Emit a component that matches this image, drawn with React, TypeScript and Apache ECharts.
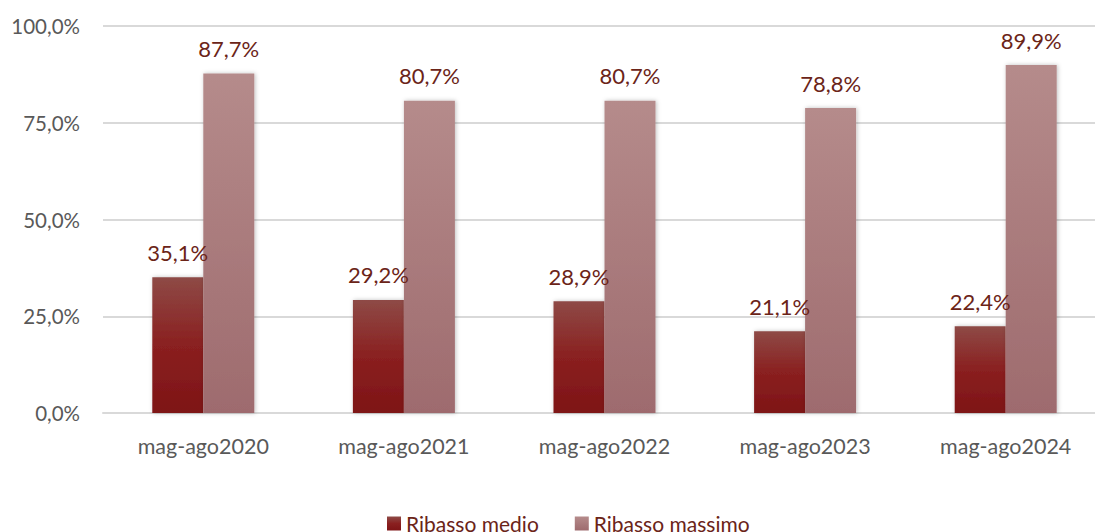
import React, { useEffect, useRef } from "react";
import * as echarts from "echarts";

const categories = ["mag-ago2020", "mag-ago2021", "mag-ago2022", "mag-ago2023", "mag-ago2024"];
const ribassoMedio = [35.1, 29.2, 28.9, 21.1, 22.4];
const ribassoMassimo = [87.7, 80.7, 80.7, 78.8, 89.9];
const seriesNames = ["Ribasso medio", "Ribasso massimo"];

const fmt = (v: number) => v.toFixed(1).replace(".", ",") + "%";

export default function App() {
  const ref = useRef<HTMLDivElement>(null);
  useEffect(() => {
    const chart = echarts.init(ref.current!, null, { renderer: "svg" });
    const font = "Lato, 'Open Sans', sans-serif";
    const labelColor = "#6b2418";
    const barLabel = {
      show: true,
      position: "top",
      distance: 14,
      color: labelColor,
      fontSize: 22,
      fontFamily: font,
      formatter: (p: any) => fmt(p.value),
    };
    chart.setOption({
      animation: false,
      grid: { left: 103, width: 1003, top: 26, height: 387 },
      legend: {
        bottom: -7,
        left: 382,
        itemWidth: 14,
        itemHeight: 14,
        itemGap: 36,
        icon: "rect",
        textStyle: { color: labelColor, fontSize: 21, fontFamily: font },
        data: seriesNames,
      },
      xAxis: {
        type: "category",
        data: categories,
        axisLine: { lineStyle: { color: "#d9d9d9", width: 2 } },
        axisTick: { show: false },
        axisLabel: { color: "#595959", fontSize: 21.5, fontFamily: font, margin: 22 },
      },
      yAxis: {
        type: "value",
        min: 0,
        max: 100,
        interval: 25,
        axisLine: { show: false },
        axisTick: { show: false },
        splitLine: { lineStyle: { color: "#d9d9d9", width: 2 } },
        axisLabel: { color: "#595959", fontSize: 20.5, fontFamily: font, margin: 23, formatter: (v: number) => fmt(v) },
      },
      series: [
        {
          name: seriesNames[0],
          type: "bar",
          data: ribassoMedio,
          barWidth: 51,
          barGap: "0%",
          itemStyle: {
            color: new echarts.graphic.LinearGradient(0, 0, 0, 1, [
              { offset: 0, color: "#8e4a46" },
              { offset: 0.5, color: "#8a2020" },
              { offset: 1, color: "#7e1416" },
            ]),
            shadowColor: "rgba(0,0,0,0.25)",
            shadowBlur: 4,
            shadowOffsetX: 1,
          },
          label: barLabel,
        },
        {
          name: seriesNames[1],
          type: "bar",
          data: ribassoMassimo,
          barWidth: 51,
          itemStyle: {
            color: new echarts.graphic.LinearGradient(0, 0, 0, 1, [
              { offset: 0, color: "#b58b8b" },
              { offset: 1, color: "#9e6b6e" },
            ]),
            shadowColor: "rgba(0,0,0,0.25)",
            shadowBlur: 4,
            shadowOffsetX: 1,
          },
          label: barLabel,
        },
      ],
    });
    return () => chart.dispose();
  }, []);
  return (
    <div style={{ width: 1095, height: 532, position: "absolute", left: 0, top: 0, overflow: "hidden" }}>
      <div ref={ref} style={{ width: 1110, height: 532 }} />
    </div>
  );
}
